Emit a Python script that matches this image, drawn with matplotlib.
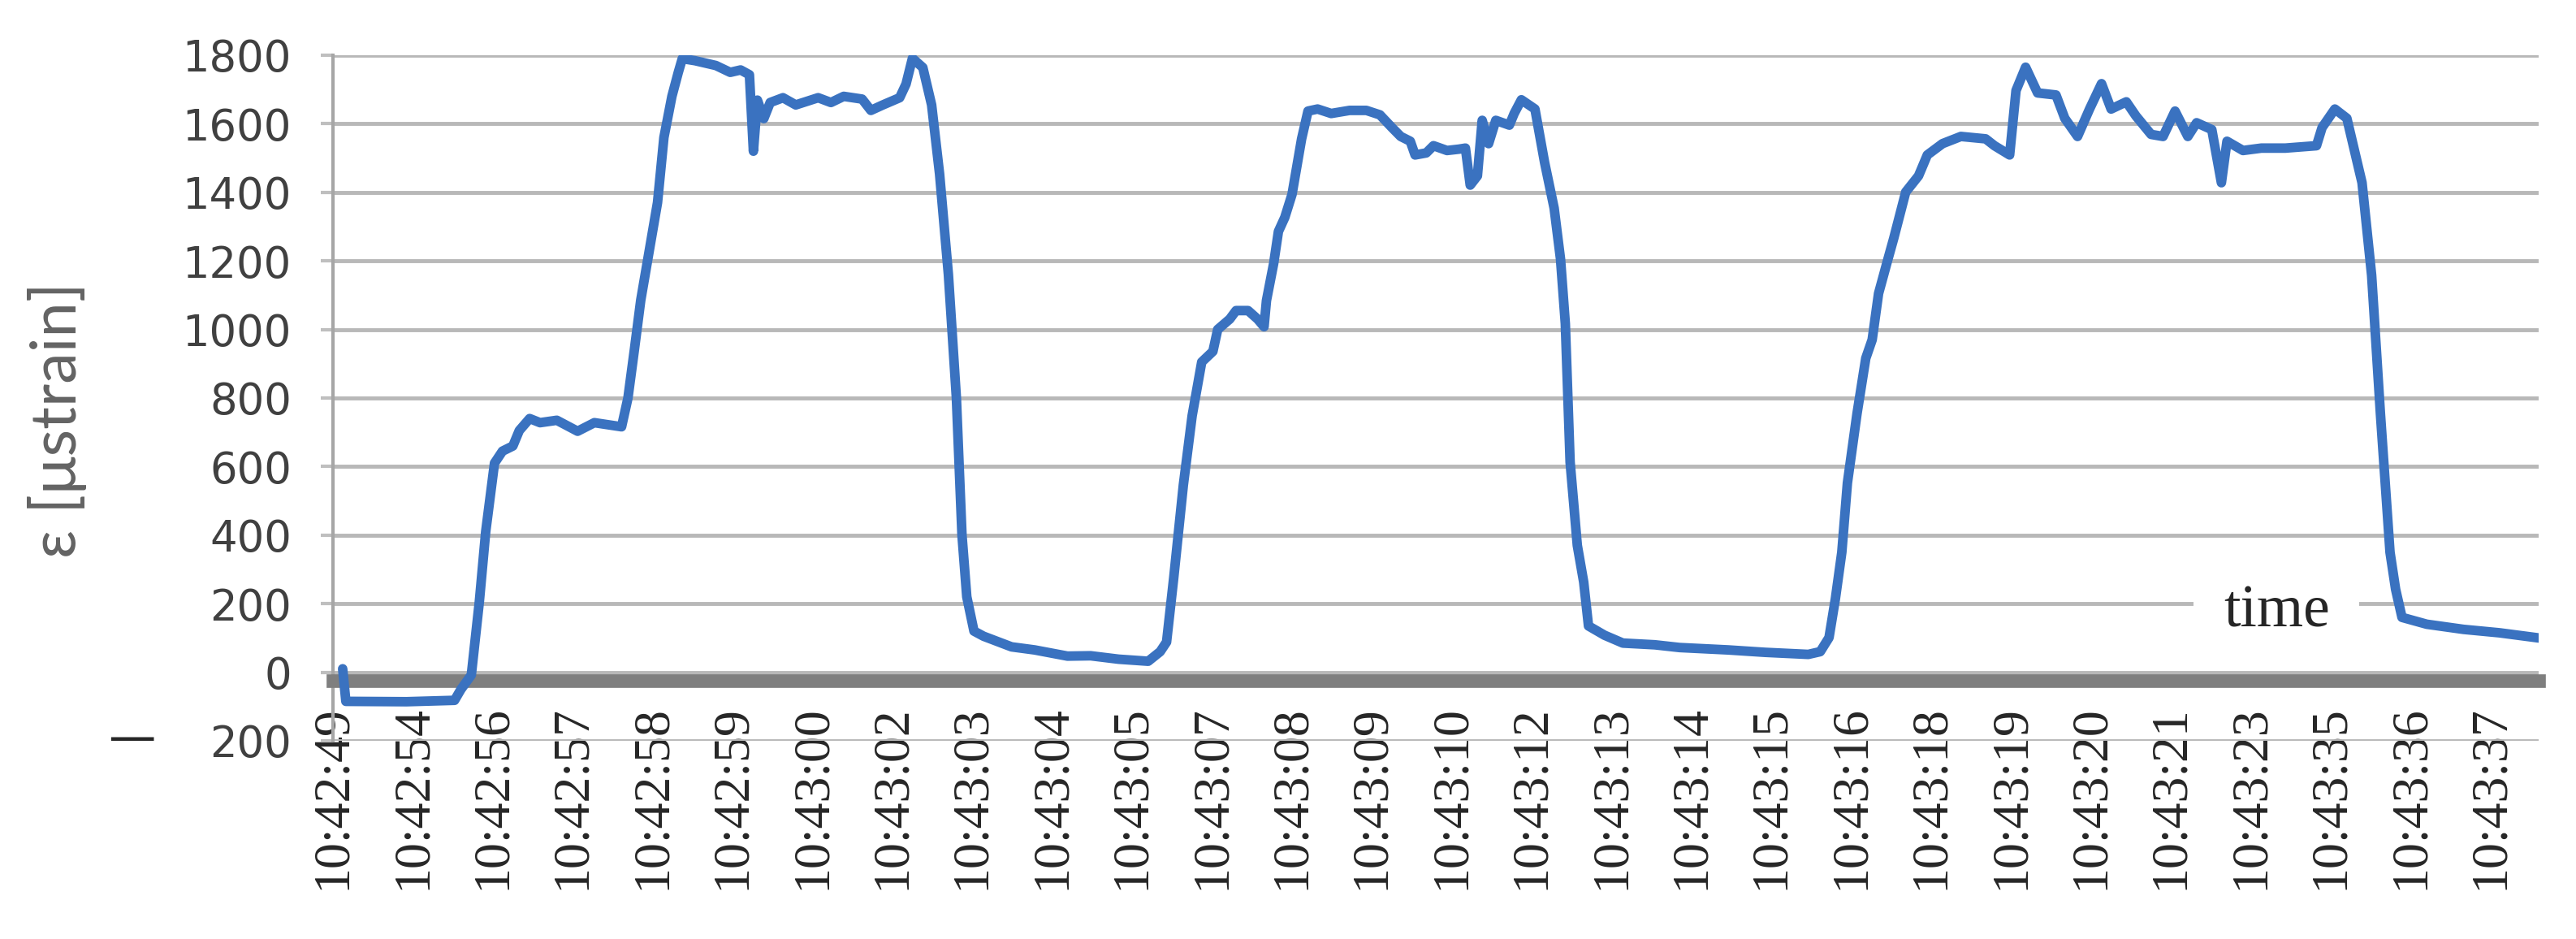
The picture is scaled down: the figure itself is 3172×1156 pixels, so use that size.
#!/usr/bin/env python3
"""
Strain gauge record over three load cycles (Excel-style line chart).
"""

import matplotlib
matplotlib.use('Agg')
import matplotlib.pyplot as plt

# category labels on the time axis (one per category slot)
time_labels = ['10:42:49', '10:42:54', '10:42:56', '10:42:57', '10:42:58',
               '10:42:59', '10:43:00', '10:43:02', '10:43:03', '10:43:04',
               '10:43:05', '10:43:07', '10:43:08', '10:43:09', '10:43:10',
               '10:43:12', '10:43:13', '10:43:14', '10:43:15', '10:43:16',
               '10:43:18', '10:43:19', '10:43:20', '10:43:21', '10:43:23',
               '10:43:35', '10:43:36', '10:43:37']

# y ticks; the minus sign of -200 is drawn apart, as in the original
y_ticks = [-200, 0, 200, 400, 600, 800, 1000, 1200, 1400, 1600, 1800]
y_tick_labels = ['200', '0', '200', '400', '600', '800', '1000', '1200',
                 '1400', '1600', '1800']

# sample position (in category slots) and measured strain
t_pos = [0.12, 0.16, 0.92, 1.52, 1.60, 1.73, 1.83, 1.91, 2.02, 2.12,
         2.25, 2.33, 2.46, 2.59, 2.80, 3.06, 3.27, 3.61, 3.69, 3.77,
         3.85, 3.95, 4.06, 4.14, 4.24, 4.32, 4.37, 4.53, 4.79, 4.97,
         5.10, 5.21, 5.26, 5.31, 5.39, 5.47, 5.63, 5.79, 6.07, 6.23,
         6.39, 6.62, 6.73, 6.88, 7.09, 7.17, 7.25, 7.38, 7.49, 7.59,
         7.70, 7.80, 7.87, 7.93, 8.02, 8.14, 8.49, 8.78, 9.19, 9.48,
         9.83, 10.20, 10.35, 10.43, 10.52, 10.64, 10.75, 10.87, 11.01, 11.07,
         11.22, 11.30, 11.45, 11.57, 11.65, 11.68, 11.77, 11.83, 11.91, 12.00,
         12.06, 12.12, 12.20, 12.32, 12.49, 12.72, 12.93, 13.10, 13.25, 13.36,
         13.48, 13.54, 13.68, 13.77, 13.94, 14.09, 14.17, 14.23, 14.32, 14.38,
         14.46, 14.55, 14.72, 14.78, 14.87, 15.04, 15.16, 15.28, 15.36, 15.42,
         15.48, 15.57, 15.65, 15.71, 15.91, 16.14, 16.38, 16.54, 16.85, 17.46,
         17.92, 18.46, 18.61, 18.72, 18.80, 18.88, 18.95, 19.07, 19.18, 19.26,
         19.34, 19.45, 19.53, 19.68, 19.84, 19.95, 20.14, 20.37, 20.68, 20.79,
         20.98, 21.06, 21.18, 21.33, 21.56, 21.67, 21.83, 21.98, 22.13, 22.25,
         22.44, 22.56, 22.75, 22.90, 23.05, 23.21, 23.32, 23.51, 23.63, 23.70,
         23.90, 24.13, 24.43, 24.82, 24.89, 25.05, 25.20, 25.39, 25.51, 25.62,
         25.74, 25.81, 25.89, 26.20, 26.66, 27.11, 27.60]

strain = [10, -85, -86, -82, -50, -8, 205, 410, 610, 645,
          660, 705, 740, 728, 735, 703, 728, 716, 800, 940,
          1085, 1220, 1370, 1560, 1680, 1750, 1790, 1784, 1770, 1750,
          1757, 1743, 1520, 1669, 1615, 1662, 1676, 1655, 1676, 1662,
          1680, 1672, 1639, 1655, 1676, 1716, 1791, 1764, 1655, 1453,
          1160, 800, 400, 220, 120, 105, 74, 65, 47, 48,
          38, 32, 60, 88, 276, 546, 748, 905, 936, 1000,
          1030, 1055, 1055, 1030, 1008, 1084, 1192, 1286, 1327, 1394,
          1475, 1556, 1637, 1643, 1630, 1639, 1639, 1626, 1589, 1563,
          1549, 1509, 1515, 1536, 1522, 1526, 1529, 1421, 1448, 1610,
          1542, 1610, 1596, 1630, 1670, 1643, 1488, 1354, 1205, 1017,
          613, 370, 263, 135, 108, 85, 82, 80, 72, 65,
          58, 52, 60, 101, 215, 350, 552, 754, 916, 970,
          1105, 1199, 1266, 1401, 1448, 1509, 1542, 1563, 1556, 1536,
          1509, 1697, 1765, 1690, 1684, 1616, 1563, 1643, 1717, 1643,
          1664, 1623, 1569, 1563, 1637, 1563, 1603, 1583, 1428, 1549,
          1522, 1529, 1529, 1536, 1589, 1643, 1616, 1428, 1158, 754,
          350, 242, 160, 140, 125, 115, 100]


def make_figure(output_path):
    """Draw the strain-time chart and save it."""
    fig = plt.figure(figsize=(31.72, 11.56), dpi=100)
    ax = fig.add_axes([0.1293, 0.2111, 0.8562, 0.7301])

    # move the category axis just under zero first: set_position resets ticks
    ax.spines['bottom'].set_position(('data', -24))
    ax.spines['bottom'].set_color('#7f7f7f')
    ax.spines['bottom'].set_linewidth(12)
    ax.spines['bottom'].set_zorder(2.6)
    ax.spines['left'].set_color('#a6a6a6')
    ax.spines['left'].set_linewidth(3)
    ax.spines['top'].set_visible(False)
    ax.spines['right'].set_visible(False)

    ax.plot(t_pos, strain, color='#3a72c0', lw=8.5,
            solid_joinstyle='round', solid_capstyle='round', zorder=3)

    ax.set_xlim(0, 27.6)
    ax.set_ylim(-200, 1800)

    # horizontal grid only
    ax.set_yticks(y_ticks)
    ax.set_yticklabels(y_tick_labels, fontfamily='DejaVu Sans',
                       fontsize=38, color='#404040')
    ax.yaxis.grid(True, color='#b8b8b8', lw=3.5)
    ax.set_axisbelow(True)
    ax.tick_params(axis='y', direction='out', length=11, width=3,
                   color='#bfbfbf', pad=26)

    # labels hang below the zero line
    ax.set_xticks(range(len(time_labels)))
    ax.set_xticklabels(time_labels, rotation=90,
                       fontfamily='Liberation Serif', fontsize=46,
                       color='#262626')
    ax.tick_params(axis='x', length=0, pad=22)

    # axis title and the loose minus sign
    fig.text(0.0224, 0.553, 'ε [μstrain]', rotation=90, fontfamily='Lato',
             fontsize=56, color='#636363', ha='center', va='center')
    fig.text(192 / 3172, 1 - 910 / 1156, '\u2014', rotation=0,
             fontfamily='DejaVu Sans', fontsize=42, color='#262626',
             ha='right', va='center')

    ax.text(24.32, 133, 'time', fontfamily='Liberation Serif', fontsize=53,
            color='#262626', ha='center', va='baseline', zorder=2,
            bbox=dict(boxstyle='square,pad=0.5', fc='white', ec='none'))

    fig.savefig(output_path, dpi=100)
    print(f"Figure saved to {output_path}")


if __name__ == '__main__':
    make_figure('out.png')
